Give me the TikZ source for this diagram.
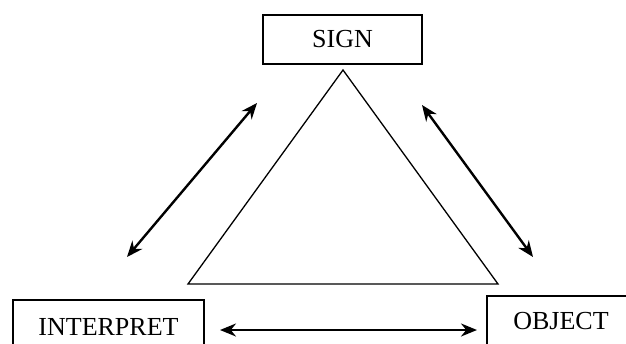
\documentclass[tikz,border=0pt]{standalone}
\usepackage{fontspec}
\setmainfont{Liberation Serif}
\usetikzlibrary{arrows.meta,positioning}

\begin{document}
\begin{tikzpicture}[
    x=1pt, y=-1pt,
    block/.style={rectangle, draw, line width=1.4pt, inner sep=0pt,
        align=center, font=\fontsize{26}{30}\selectfont},
    arrow/.style={<->, >={Stealth[length=16pt,width=13pt]}, line width=2.4pt},
    tri/.style={draw, line width=1.3pt, line join=miter}
]
    \useasboundingbox (0,0) rectangle (626,343);
    \clip (0,0) rectangle (626,343);

    \node[block, minimum width=159pt, minimum height=49pt] (sign) at (342.5,39.5) {SIGN};
    \node[block, minimum width=191pt, minimum height=53pt] (interp) at (108.5,326.5) {INTERPRET};
    \node[block, minimum width=148pt, minimum height=50pt] (object) at (561,321) {OBJECT};

    % triangle
    \coordinate (top) at (343,70);
    \coordinate (bl) at (188,284);
    \coordinate (br) at (498,284);
    \draw[tri] (top) -- (bl) -- (br) -- cycle;

    % arrow ends
    \coordinate (la) at (257,103);
    \coordinate (lb) at (127,257);
    \coordinate (ra) at (422,105);
    \coordinate (rb) at (533,257);
    \coordinate (ba) at (220,330);
    \coordinate (bb) at (477,330);

    \draw[arrow] (lb) -- (la);
    \draw[arrow] (ra) -- (rb);
    \draw[arrow] (ba) -- (bb);
\end{tikzpicture}
\end{document}
